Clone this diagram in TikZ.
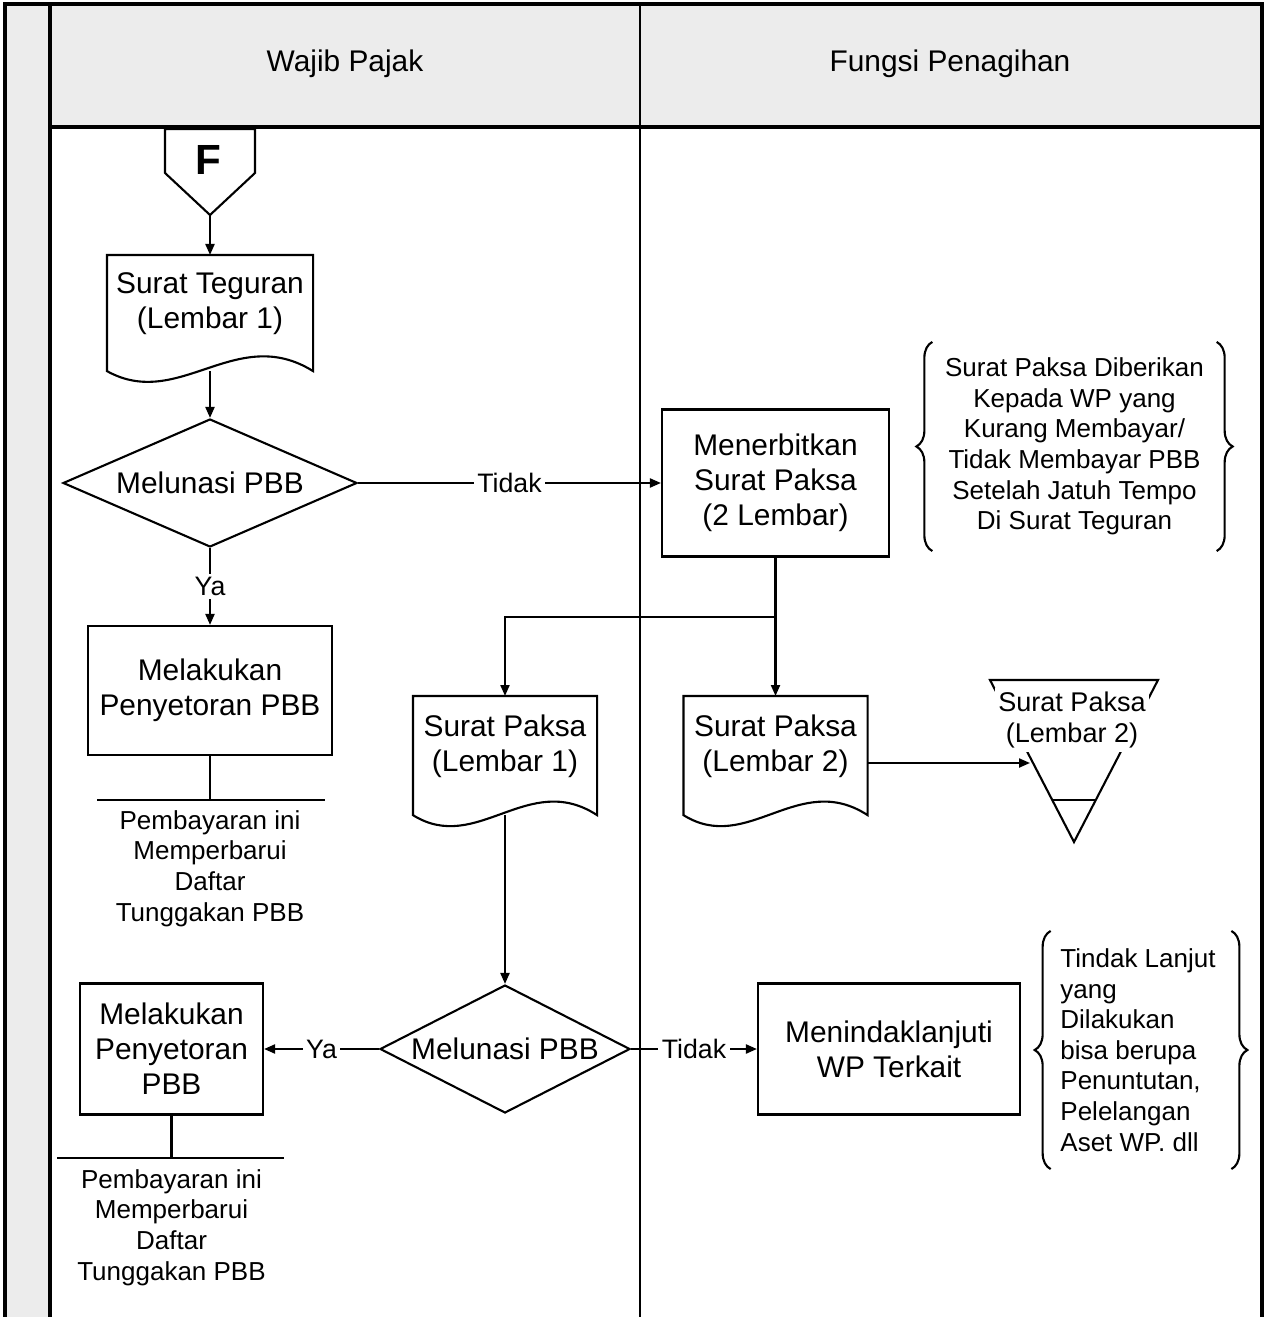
\documentclass[tikz,border=0pt]{standalone}
\usepackage{fontspec}
\setmainfont{Liberation Sans}
\usetikzlibrary{shapes.geometric,arrows.meta,decorations.pathreplacing}

\begin{document}
\begin{tikzpicture}[
    >={Triangle[length=1.1mm,width=0.9mm]},
    line width=0.6pt,
    every node/.style={font=\fontsize{8.5}{10}\selectfont, align=center},
    proses/.style={draw, rectangle, inner sep=0pt},
    keputusan/.style={draw, diamond, aspect=2, inner sep=0pt, minimum width=#1, minimum height=1.28cm},
    dokumen/.style={anchor=north, inner sep=0pt},
    catatan/.style={font=\fontsize{7.4}{8.7}\selectfont},
    ket/.style={fill=white, inner sep=1pt, font=\fontsize{7.6}{9}\selectfont},
    kurung/.style={decorate, decoration={brace, amplitude=1.6mm}}
]
\definecolor{abu}{gray}{0.925}

\useasboundingbox (0,0) rectangle (12.68,-13.17);

% jalur
\fill[abu] (0.05,-0.04) rectangle (0.50,-13.17);
\fill[abu] (0.50,-0.04) rectangle (12.62,-1.27);
\draw[line width=1pt] (0.05,-13.17) -- (0.05,-0.04) -- (12.62,-0.04) -- (12.62,-13.17);
\draw[line width=0.9pt] (0.50,-0.04) -- (0.50,-13.17);
\draw[line width=0.9pt] (0.50,-1.27) -- (12.62,-1.27);
\draw[line width=0.8pt] (6.40,-0.04) -- (6.40,-13.17);

\node (wp) at (3.45,-0.64) {Wajib Pajak};
\node (fp) at (9.50,-0.64) {Fungsi Penagihan};

% penghubung F
\draw (1.65,-1.29) -- (2.55,-1.29) -- (2.55,-1.73) -- (2.10,-2.15) -- (1.65,-1.73) -- cycle;
\node[font=\fontsize{12}{14}\selectfont\bfseries] (f) at (2.08,-1.60) {F};
\coordinate (fujung) at (2.10,-2.15);

% surat teguran
\node[dokumen, minimum width=2.04cm, minimum height=0.95cm] (teg) at (2.10,-2.55)
    {Surat Teguran\\(Lembar 1)};
\draw (teg.north west) -- (teg.north east) -- ([yshift=-0.19cm]teg.south east)
    .. controls +(-0.77,0.48) and +(0.72,-0.40) .. ([yshift=-0.19cm]teg.south west) -- cycle;
\draw[->] (fujung) -- (teg.north);

\node[keputusan=2.94cm] (lunas1) at (2.10,-4.83) {Melunasi PBB};
\draw[->] ([yshift=-0.19cm]teg.south) -- (lunas1.north);

\node[proses, minimum width=2.27cm, minimum height=1.47cm] (terbit) at (7.755,-4.83)
    {Menerbitkan\\Surat Paksa\\(2 Lembar)};
\draw[->] (lunas1.east) -- node[ket] {Tidak} (terbit.west);

\node[catatan, minimum width=2.79cm, minimum height=2.07cm] (ket1) at (10.745,-4.465)
    {Surat Paksa Diberikan\\Kepada WP yang\\Kurang Membayar/\\Tidak Membayar PBB\\Setelah Jatuh Tempo\\Di Surat Teguran};
\draw[kurung] (ket1.south west) -- (ket1.north west);
\draw[kurung] (ket1.north east) -- (ket1.south east);

% ya -> penyetoran
\node[proses, minimum width=2.44cm, minimum height=1.29cm] (setor1) at (2.10,-6.905)
    {Melakukan\\Penyetoran PBB};
\draw[->] (lunas1.south) -- node[ket] {Ya} (setor1.north);
\coordinate (garis1) at (2.10,-8.00);
\draw (setor1.south) -- (garis1);
\draw ([xshift=-1.13cm]garis1) -- ([xshift=1.15cm]garis1);
\node[catatan] (bayar1) at (2.10,-8.685)
    {Pembayaran ini\\Memperbarui\\Daftar\\Tunggakan PBB};

% surat paksa
\coordinate (cabang) at (7.755,-6.17);
\draw (terbit.south) -- (cabang);
\node[dokumen, minimum width=1.82cm, minimum height=0.99cm] (paksa1) at (5.05,-6.96)
    {Surat Paksa\\(Lembar 1)};
\node[dokumen, minimum width=1.82cm, minimum height=0.99cm] (paksa2) at (7.755,-6.96)
    {Surat Paksa\\(Lembar 2)};
\draw (paksa1.north west) -- (paksa1.north east) -- ([yshift=-0.18cm]paksa1.south east)
    .. controls +(-0.69,0.45) and +(0.64,-0.40) .. ([yshift=-0.18cm]paksa1.south west) -- cycle;
\draw (paksa2.north west) -- (paksa2.north east) -- ([yshift=-0.18cm]paksa2.south east)
    .. controls +(-0.69,0.45) and +(0.64,-0.40) .. ([yshift=-0.18cm]paksa2.south west) -- cycle;
\draw[->] (cabang) -| (paksa1.north);
\draw[->] (cabang) -- (paksa2.north);

% arsip
\draw (9.90,-6.80) -- (11.58,-6.80) -- (10.74,-8.42) -- cycle;
\draw (10.52,-8.00) -- (10.96,-8.00);
\node[fill=white, inner sep=1pt, font=\fontsize{7.7}{9.1}\selectfont] (arsip) at (10.72,-7.20)
    {Surat Paksa\\(Lembar 2)};
\coordinate (arsipmasuk) at (10.30,-7.63);
\draw[->] (paksa2.east |- arsipmasuk) -- (arsipmasuk);

% keputusan kedua
\node[keputusan=2.50cm] (lunas2) at (5.05,-10.49) {Melunasi PBB};
\draw[->] ([yshift=-0.18cm]paksa1.south) -- (lunas2.north);

\node[proses, minimum width=1.83cm, minimum height=1.31cm] (setor2) at (1.715,-10.49)
    {Melakukan\\Penyetoran\\PBB};
\draw[->] (lunas2.west) -- node[ket] {Ya} (setor2.east);
\coordinate (garis2) at (1.715,-11.58);
\draw (setor2.south) -- (garis2);
\draw ([xshift=-1.145cm]garis2) -- ([xshift=1.125cm]garis2);
\node[catatan] (bayar2) at (1.715,-12.275)
    {Pembayaran ini\\Memperbarui\\Daftar\\Tunggakan PBB};

\node[proses, minimum width=2.62cm, minimum height=1.31cm] (tindak) at (8.89,-10.49)
    {Menindaklanjuti\\WP Terkait};
\draw[->] (lunas2.east) -- node[ket] {Tidak} (tindak.west);

\node[catatan, align=left, minimum width=1.73cm, minimum height=2.36cm] (ket2) at (11.38,-10.50)
    {Tindak Lanjut\\yang\\Dilakukan\\bisa berupa\\Penuntutan,\\Pelelangan\\Aset WP. dll};
\draw[kurung] ([xshift=0.03cm]ket2.south west) -- ([xshift=0.03cm]ket2.north west);
\draw[kurung] ([xshift=0.03cm]ket2.north east) -- ([xshift=0.03cm]ket2.south east);

\end{tikzpicture}
\end{document}
